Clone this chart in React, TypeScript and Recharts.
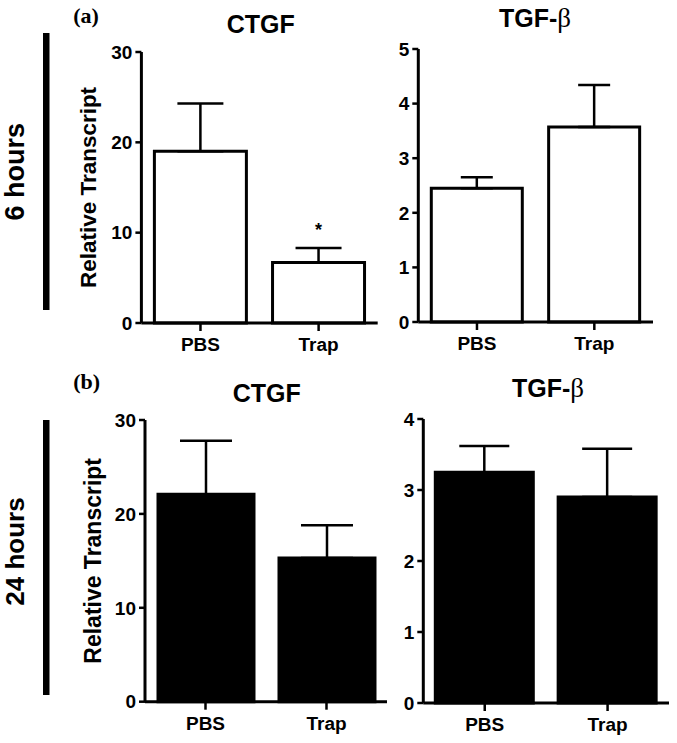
import React from 'react'
import { BarChart, Bar, XAxis, YAxis, ErrorBar, LabelList } from 'recharts'

const groups = ['PBS', 'Trap']

// 6 hours
const ctgf6h = [19.0, 6.7]
const ctgf6hErr = [5.3, 1.6]
const ctgf6hSig = ['', '*']
const tgfb6h = [2.45, 3.57]
const tgfb6hErr = [0.2, 0.77]

// 24 hours
const ctgf24h = [22.1, 15.3]
const ctgf24hErr = [5.7, 3.5]
const tgfb24h = [3.25, 2.9]
const tgfb24hErr = [0.37, 0.68]

const noSig = ['', '']

const ticksCtgf = [0, 10, 20, 30]
const ticksTgf6h = [0, 1, 2, 3, 4, 5]
const ticksTgf24h = [0, 1, 2, 3, 4]

const SANS = '"Liberation Sans", Arial, Helvetica, sans-serif'
const SERIF = '"Liberation Serif", "Times New Roman", serif'

function build(values: number[], errs: number[], sig: string[]) {
  return groups.map((g, i) => ({ group: g, value: values[i], err: [0, errs[i]], sig: sig[i] }))
}

const SigMark = (props: any) => {
  const { value } = props
  if (!value) return null
  const vb = props.viewBox || props
  const x = Number(vb.x) + Number(vb.width) / 2
  const y = Number(vb.y)
  return (
    <text x={x} y={y - 26} textAnchor="middle" fontFamily={SANS} fontWeight={700} fontSize={18} fill="#000">
      {value}
    </text>
  )
}

interface PanelProps {
  data: { group: string; value: number; err: number[]; sig: string }[]
  ticks: number[]
  left: number
  axisX: number
  right: number
  top: number
  bottom: number
  filled?: boolean
  barSize: number
  cap: number
  yLabel?: string
  yLabelSize?: number
}

function Panel({ data, ticks, left, axisX, right, top, bottom, filled, barSize, cap, yLabel, yLabelSize }: PanelProps) {
  const padTop = 12
  const xAxisH = 40
  const width = right - left
  const height = bottom - top + padTop + xAxisH
  const tickStyle = { fill: '#000', fontSize: 19, fontWeight: 700, fontFamily: SANS }
  return (
    <div style={{ position: 'absolute', left, top: top - padTop }}>
      <BarChart
        width={width}
        height={height}
        data={data}
        margin={{ top: padTop, right: 0, bottom: 0, left: 0 }}
        barSize={barSize}
      >
        <XAxis
          dataKey="group"
          height={xAxisH}
          interval={0}
          axisLine={{ stroke: '#000', strokeWidth: 3 }}
          tickLine={{ stroke: '#000', strokeWidth: 2.5 }}
          tickSize={8}
          tickMargin={7}
          tick={tickStyle}
        />
        <YAxis
          width={axisX - left}
          domain={[0, ticks[ticks.length - 1]]}
          ticks={ticks}
          interval={0}
          axisLine={{ stroke: '#000', strokeWidth: 3 }}
          tickLine={{ stroke: '#000', strokeWidth: 2.5 }}
          tickSize={6}
          tickMargin={3}
          tick={tickStyle}
          label={
            yLabel
              ? {
                  value: yLabel,
                  angle: -90,
                  position: 'center',
                  fill: '#000',
                  fontSize: yLabelSize,
                  fontWeight: 700,
                  fontFamily: SANS,
                }
              : undefined
          }
        />
        <Bar
          dataKey="value"
          fill={filled ? '#000' : '#fff'}
          stroke="#000"
          strokeWidth={3}
          isAnimationActive={false}
        >
          <ErrorBar dataKey="err" direction="y" width={cap} stroke="#000" strokeWidth={2.5} />
          <LabelList dataKey="sig" content={SigMark} />
        </Bar>
      </BarChart>
    </div>
  )
}

export default function App() {
  return (
    <div style={{ position: 'absolute', left: 0, top: 0, width: 677, height: 743, background: '#fff' }}>
      <Panel
        data={build(ctgf6h, ctgf6hErr, ctgf6hSig)}
        ticks={ticksCtgf}
        left={34.3}
        axisX={141.7}
        right={378}
        top={52.3}
        bottom={323.3}
        barSize={92}
        cap={23}
        yLabel="Relative Transcript"
        yLabelSize={22.5}
      />
      <Panel
        data={build(tgfb6h, tgfb6hErr, noSig)}
        ticks={ticksTgf6h}
        left={368}
        axisX={418.3}
        right={653}
        top={49.3}
        bottom={322.3}
        barSize={91}
        cap={16}
      />
      <Panel
        data={build(ctgf24h, ctgf24hErr, noSig)}
        ticks={ticksCtgf}
        left={40}
        axisX={145}
        right={387}
        top={420}
        bottom={701.7}
        filled
        barSize={96}
        cap={26}
        yLabel="Relative Transcript"
        yLabelSize={23}
      />
      <Panel
        data={build(tgfb24h, tgfb24hErr, noSig)}
        ticks={ticksTgf24h}
        left={373}
        axisX={423.3}
        right={669}
        top={419.3}
        bottom={703.3}
        filled
        barSize={98}
        cap={25}
      />
      <svg width={677} height={743} style={{ position: 'absolute', left: 0, top: 0 }}>
        <text x={86} y={22.5} textAnchor="middle" fontFamily={SERIF} fontWeight={700} fontSize={22}>(a)</text>
        <text x={86.7} y={388.5} textAnchor="middle" fontFamily={SERIF} fontWeight={700} fontSize={22}>(b)</text>

        <text x={260.8} y={33} textAnchor="middle" fontFamily={SANS} fontWeight={700} fontSize={25}>CTGF</text>
        <text x={535} y={27} textAnchor="middle" fontFamily={SANS} fontWeight={700} fontSize={25}>
          TGF-<tspan fontFamily={SERIF} fontWeight={400} fontSize={27}>β</tspan>
        </text>
        <text x={266.7} y={401.7} textAnchor="middle" fontFamily={SANS} fontWeight={700} fontSize={25}>CTGF</text>
        <text x={548} y={396.7} textAnchor="middle" fontFamily={SANS} fontWeight={700} fontSize={25}>
          TGF-<tspan fontFamily={SERIF} fontWeight={400} fontSize={27}>β</tspan>
        </text>

        <text
          transform="translate(15,171.7) rotate(-90)"
          textAnchor="middle"
          dominantBaseline="central"
          fontFamily={SANS}
          fontWeight={700}
          fontSize={27}
        >
          6 hours
        </text>
        <text
          transform="translate(15,551.5) rotate(-90)"
          textAnchor="middle"
          dominantBaseline="central"
          fontFamily={SANS}
          fontWeight={700}
          fontSize={26}
        >
          24 hours
        </text>
        <rect x={43} y={33} width={6.5} height={277} fill="#000" />
        <rect x={43} y={420} width={6.5} height={275} fill="#000" />
      </svg>
    </div>
  )
}
